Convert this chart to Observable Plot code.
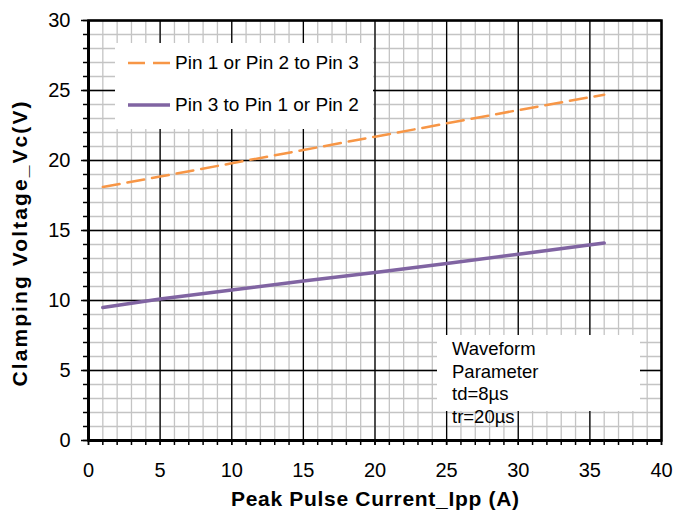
<!DOCTYPE html>
<html><head><meta charset="utf-8">
<script src="https://cdn.jsdelivr.net/npm/d3@7"></script>
<script src="https://cdn.jsdelivr.net/npm/@observablehq/plot@0.6"></script>
<style>
body{margin:0;background:#fff;font-family:"Liberation Sans",Arial,sans-serif}
#wrap{position:relative;width:676px;height:522px;overflow:hidden}
.box{position:absolute;background:#fff}
.lg{position:absolute;font-size:19px;line-height:19px;white-space:nowrap;color:#000}
.note{position:absolute;font-size:18.5px;line-height:22.5px;white-space:nowrap;color:#000}
</style></head><body><div id="wrap"></div>
<script>
// ---- data ----
const currentA   = [1, 5, 10, 15, 20, 25, 30, 36];
const vcPin12to3 = [18.1, 18.85, 19.8, 20.75, 21.7, 22.65, 23.6, 24.7];
const vcPin3to12 = [9.5, 10.1, 10.75, 11.4, 12.0, 12.65, 13.3, 14.1];
const seriesNames = ["Pin 1 or Pin 2 to Pin 3", "Pin 3 to Pin 1 or Pin 2"];
const xMajor = [0, 5, 10, 15, 20, 25, 30, 35, 40];
const yMajor = [0, 5, 10, 15, 20, 25, 30];
const xMinor = [0,1,2,3,4,5,6,7,8,9,10,11,12,13,14,15,16,17,18,19,20,21,22,23,24,25,26,27,28,29,30,31,32,33,34,35,36,37,38,39,40];
const yMinor = [0,1,2,3,4,5,6,7,8,9,10,11,12,13,14,15,16,17,18,19,20,21,22,23,24,25,26,27,28,29,30];
const xTitle = "Peak Pulse Current_Ipp (A)";
const yTitle = "Clamping Voltage_Vc(V)";
const noteLines = ["Waveform", "Parameter", "td=8µs", "tr=20µs"];

const seriesA = currentA.map((x, i) => ({x, y: vcPin12to3[i]}));
const seriesB = currentA.map((x, i) => ({x, y: vcPin3to12[i]}));
const colors = ["#F79646", "#8064A2"];
const font = '"Liberation Sans", Arial, sans-serif';

const chart = Plot.plot({
  width: 676, height: 522,
  marginLeft: 88, marginRight: 15, marginTop: 20, marginBottom: 82,
  x: {domain: [0, 40]},
  y: {domain: [0, 30]},
  style: {fontFamily: font, fontSize: "20px", color: "#000", background: "#fff", overflow: "visible"},
  marks: [
    Plot.ruleX(xMinor, {stroke: "#c4c4c4", strokeWidth: 1.3}),
    Plot.ruleY(yMinor, {stroke: "#c4c4c4", strokeWidth: 1.3}),
    Plot.ruleX(xMajor, {stroke: "#000", strokeWidth: 1.3}),
    Plot.ruleY(yMajor, {stroke: "#000", strokeWidth: 1.3}),
    Plot.axisX({ticks: xMinor, tickSize: 5, tickFormat: () => "", label: null, strokeWidth: 1.5}),
    Plot.axisY({ticks: yMinor, tickSize: 5, tickFormat: () => "", label: null, strokeWidth: 1.5}),
    Plot.axisX({ticks: xMajor, tickSize: 5, tickPadding: 17, label: null, strokeWidth: 1.5, fontSize: 20}),
    Plot.axisY({ticks: yMajor, tickSize: 7, tickPadding: 11, label: null, strokeWidth: 1.5, fontSize: 20}),
    Plot.frame({stroke: "#000", strokeWidth: 2.5}),
    Plot.ruleX([0], {stroke: "#000", strokeWidth: 3}),
    Plot.ruleY([0], {stroke: "#000", strokeWidth: 3}),
    Plot.line(seriesA, {x: "x", y: "y", stroke: colors[0], strokeWidth: 2.5, strokeDasharray: "17,8"}),
    Plot.line(seriesB, {x: "x", y: "y", stroke: colors[1], strokeWidth: 3.5}),
    Plot.text([xTitle], {text: d => d, frameAnchor: "bottom", textAnchor: "middle", dy: 65, fontWeight: "bold", fontSize: 21}),
    Plot.text([yTitle], {text: d => d, frameAnchor: "left", textAnchor: "middle", lineAnchor: "middle", rotate: -90, dx: -68, dy: 13.5, fontWeight: "bold", fontSize: 21})
  ]
});

// stretch the axis titles to the reference's widths
d3.select(chart).selectAll("text").each(function() {
  const s = this.textContent;
  if (s === xTitle) d3.select(this).attr("textLength", 288).attr("lengthAdjust", "spacing");
  if (s === yTitle) d3.select(this).attr("textLength", 285).attr("lengthAdjust", "spacing");
});

const wrap = document.getElementById("wrap");
wrap.appendChild(chart);

// legend box
const lg = document.createElement("div");
lg.className = "box";
Object.assign(lg.style, {left: "115px", top: "43px", width: "258px", height: "86px"});
wrap.appendChild(lg);
const rowY = [20, 62];
seriesNames.forEach((name, i) => {
  const sv = d3.create("svg").attr("width", 44).attr("height", 8)
    .style("position", "absolute").style("left", "13px").style("top", (rowY[i] - 4) + "px");
  sv.append("line").attr("x1", 0).attr("x2", 42).attr("y1", 4).attr("y2", 4)
    .attr("stroke", colors[i]).attr("stroke-width", i === 0 ? 2.5 : 3.5)
    .attr("stroke-dasharray", i === 0 ? "17,8" : null);
  lg.appendChild(sv.node());
  const t = document.createElement("div");
  t.className = "lg";
  t.textContent = name;
  Object.assign(t.style, {left: "60px", top: (rowY[i] - 10) + "px"});
  lg.appendChild(t);
});

// waveform note box
const nb = document.createElement("div");
nb.className = "box";
Object.assign(nb.style, {left: "437px", top: "335px", width: "203px", height: "76px"});
wrap.appendChild(nb);
const nt = document.createElement("div");
nt.className = "note";
nt.innerHTML = noteLines.join("<br>");
Object.assign(nt.style, {left: "452px", top: "338px"});
wrap.appendChild(nt);
</script></body></html>
